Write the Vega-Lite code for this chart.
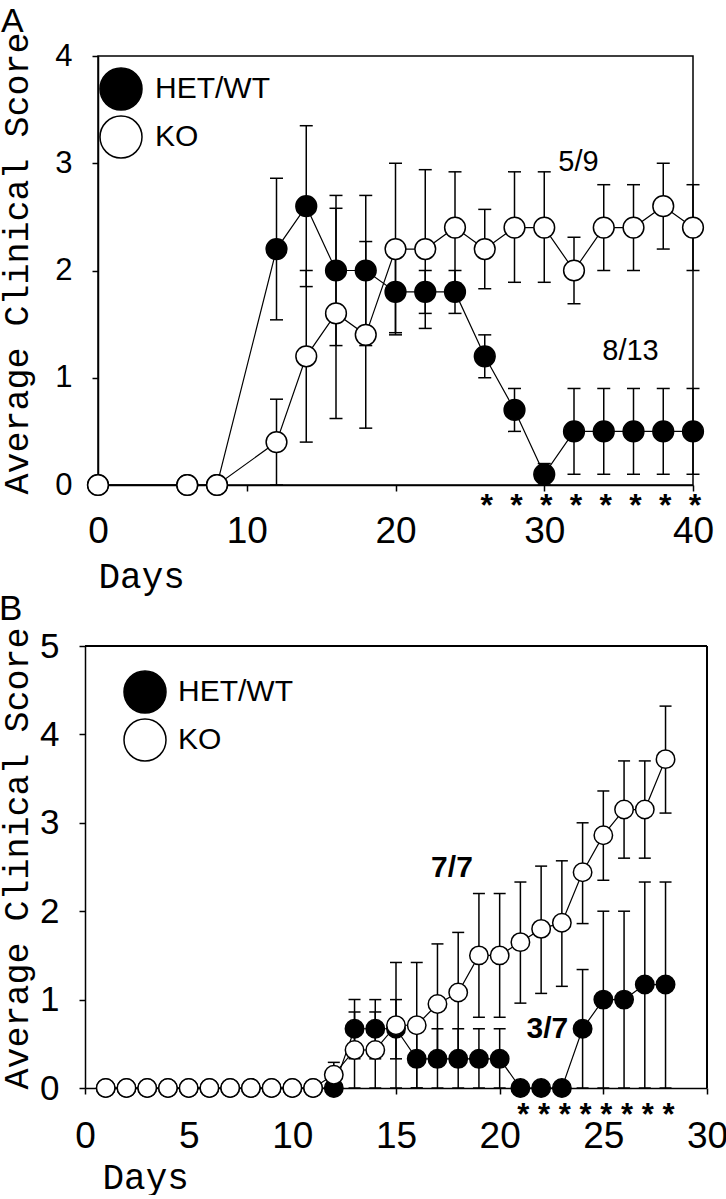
{
  "$schema": "https://vega.github.io/schema/vega-lite/v6.json",
  "background": "white",
  "padding": {"left": -2, "top": 4, "right": 0, "bottom": 0},
  "config": {
    "view": {"stroke": "black", "strokeWidth": 1.5},
    "axis": {"domainColor": "black", "domainWidth": 1.5, "tickColor": "black", "tickWidth": 1.5, "tickSize": 6, "labelColor": "black", "titleColor": "black", "grid": false, "labelFont": "Liberation Sans", "labelFlush": false, "labelOverlap": false, "titleFont": "Courier New, Liberation Mono, monospace", "titleFontWeight": "normal"},
    "legend": {"padding": 0}
  },
  "resolve": {"scale": {"fill": "independent"}, "legend": {"fill": "independent"}},
  "concat": [
    {
      "title": {"text": "A", "anchor": "start", "frame": "bounds", "fontSize": 34, "font": "Liberation Sans", "fontWeight": "normal", "color": "black", "offset": -7, "dx": 2},
      "width": 595,
      "height": 429,
      "data": {"values": [
        {"d": 0, "g": "HET/WT", "v": 0},
        {"d": 6, "g": "HET/WT", "v": 0},
        {"d": 8, "g": "HET/WT", "v": 0},
        {"d": 12, "g": "HET/WT", "v": 2.2, "lo": 1.54, "hi": 2.86},
        {"d": 14, "g": "HET/WT", "v": 2.6, "lo": 1.85, "hi": 3.35},
        {"d": 16, "g": "HET/WT", "v": 2.0, "lo": 1.3, "hi": 2.7},
        {"d": 18, "g": "HET/WT", "v": 2.0, "lo": 1.3, "hi": 2.7},
        {"d": 20, "g": "HET/WT", "v": 1.8, "lo": 1.42, "hi": 2.18},
        {"d": 22, "g": "HET/WT", "v": 1.8, "lo": 1.6, "hi": 2.0},
        {"d": 24, "g": "HET/WT", "v": 1.8, "lo": 1.6, "hi": 2.0},
        {"d": 26, "g": "HET/WT", "v": 1.2, "lo": 1.0, "hi": 1.4},
        {"d": 28, "g": "HET/WT", "v": 0.7, "lo": 0.5, "hi": 0.9},
        {"d": 30, "g": "HET/WT", "v": 0.1, "lo": 0.0, "hi": 0.2},
        {"d": 32, "g": "HET/WT", "v": 0.5, "lo": 0.1, "hi": 0.9},
        {"d": 34, "g": "HET/WT", "v": 0.5, "lo": 0.1, "hi": 0.9},
        {"d": 36, "g": "HET/WT", "v": 0.5, "lo": 0.1, "hi": 0.9},
        {"d": 38, "g": "HET/WT", "v": 0.5, "lo": 0.1, "hi": 0.9},
        {"d": 40, "g": "HET/WT", "v": 0.5, "lo": 0.1, "hi": 0.9},
        {"d": 0, "g": "KO", "v": 0},
        {"d": 6, "g": "KO", "v": 0},
        {"d": 8, "g": "KO", "v": 0},
        {"d": 12, "g": "KO", "v": 0.4, "lo": 0.0, "hi": 0.8},
        {"d": 14, "g": "KO", "v": 1.2, "lo": 0.4, "hi": 2.0},
        {"d": 16, "g": "KO", "v": 1.6, "lo": 0.62, "hi": 2.58},
        {"d": 18, "g": "KO", "v": 1.4, "lo": 0.53, "hi": 2.27},
        {"d": 20, "g": "KO", "v": 2.2, "lo": 1.4, "hi": 3.0},
        {"d": 22, "g": "KO", "v": 2.2, "lo": 1.46, "hi": 2.94},
        {"d": 24, "g": "KO", "v": 2.4, "lo": 1.88, "hi": 2.92},
        {"d": 26, "g": "KO", "v": 2.2, "lo": 1.83, "hi": 2.57},
        {"d": 28, "g": "KO", "v": 2.4, "lo": 1.89, "hi": 2.92},
        {"d": 30, "g": "KO", "v": 2.4, "lo": 1.89, "hi": 2.92},
        {"d": 32, "g": "KO", "v": 2.0, "lo": 1.69, "hi": 2.31},
        {"d": 34, "g": "KO", "v": 2.4, "lo": 2.0, "hi": 2.8},
        {"d": 36, "g": "KO", "v": 2.4, "lo": 2.0, "hi": 2.8},
        {"d": 38, "g": "KO", "v": 2.6, "lo": 2.2, "hi": 3.0},
        {"d": 40, "g": "KO", "v": 2.4, "lo": 2.0, "hi": 2.8}
      ]},
      "encoding": {
        "x": {"field": "d", "type": "quantitative", "scale": {"domain": [0, 40], "nice": false}, "axis": {"values": [0, 10, 20, 30, 40], "labelFontSize": 37, "labelPadding": 22, "title": "Days", "titleFontSize": 36, "titleX": 0, "titleY": 102, "titleAlign": "left", "titleBaseline": "alphabetic"}}
      },
      "layer": [
        {
          "mark": {"type": "rule", "color": "black", "strokeWidth": 1.5},
          "encoding": {
            "y": {"field": "lo", "type": "quantitative", "scale": {"domain": [0, 4], "nice": false}, "axis": {"values": [0, 1, 2, 3, 4], "labelFontSize": 31, "labelPadding": 20, "title": "Average Clinical Score", "titleFontSize": 35, "titleX": -71, "titleY": 207, "titleBaseline": "alphabetic", "titleAlign": "center"}},
            "y2": {"field": "hi"}
          }
        },
        {
          "mark": {"type": "tick", "orient": "horizontal", "size": 13, "thickness": 1.5, "color": "black", "opacity": 1},
          "encoding": {"y": {"field": "lo", "type": "quantitative", "axis": {"values": [0, 1, 2, 3, 4], "labelFontSize": 31, "labelPadding": 20, "title": "Average Clinical Score", "titleFontSize": 35, "titleX": -71, "titleY": 207, "titleBaseline": "alphabetic", "titleAlign": "center"}}}
        },
        {
          "mark": {"type": "tick", "orient": "horizontal", "size": 13, "thickness": 1.5, "color": "black", "opacity": 1},
          "encoding": {"y": {"field": "hi", "type": "quantitative", "axis": {"values": [0, 1, 2, 3, 4], "labelFontSize": 31, "labelPadding": 20, "title": "Average Clinical Score", "titleFontSize": 35, "titleX": -71, "titleY": 207, "titleBaseline": "alphabetic", "titleAlign": "center"}}}
        },
        {
          "mark": {"type": "line", "color": "black", "strokeWidth": 1.2},
          "encoding": {"y": {"field": "v", "type": "quantitative", "axis": {"values": [0, 1, 2, 3, 4], "labelFontSize": 31, "labelPadding": 20, "title": "Average Clinical Score", "titleFontSize": 35, "titleX": -71, "titleY": 207, "titleBaseline": "alphabetic", "titleAlign": "center"}}, "detail": {"field": "g", "type": "nominal"}}
        },
        {
          "mark": {"type": "point", "shape": "circle", "filled": true, "stroke": "black", "strokeWidth": 1.5, "size": 430, "opacity": 1},
          "encoding": {
            "y": {"field": "v", "type": "quantitative", "axis": {"values": [0, 1, 2, 3, 4], "labelFontSize": 31, "labelPadding": 20, "title": "Average Clinical Score", "titleFontSize": 35, "titleX": -71, "titleY": 207, "titleBaseline": "alphabetic", "titleAlign": "center"}},
            "fill": {"field": "g", "type": "nominal", "scale": {"domain": ["HET/WT", "KO"], "range": ["black", "white"]}, "legend": {"orient": "none", "legendX": 1, "legendY": 11, "title": null, "symbolType": "circle", "symbolSize": 1764, "symbolStrokeColor": "black", "symbolStrokeWidth": 1.5, "symbolOpacity": 1, "labelFont": "Liberation Sans", "labelFontSize": 30, "labelColor": "black", "labelOffset": 12, "rowPadding": 0, "padding": 0}}
          }
        },
        {
          "data": {"values": [{"d": 32.3, "v": 3.01, "t": "5/9"}, {"d": 35.8, "v": 1.25, "t": "8/13"}]},
          "mark": {"type": "text", "font": "Liberation Sans", "fontSize": 29, "color": "black", "baseline": "middle", "align": "center"},
          "encoding": {"y": {"field": "v", "type": "quantitative", "axis": {"values": [0, 1, 2, 3, 4], "labelFontSize": 31, "labelPadding": 20, "title": "Average Clinical Score", "titleFontSize": 35, "titleX": -71, "titleY": 207, "titleBaseline": "alphabetic", "titleAlign": "center"}}, "text": {"field": "t"}}
        },
        {
          "data": {"values": [{"d": 26, "v": 0}, {"d": 28, "v": 0}, {"d": 30, "v": 0}, {"d": 32, "v": 0}, {"d": 34, "v": 0}, {"d": 36, "v": 0}, {"d": 38, "v": 0}, {"d": 40, "v": 0}]},
          "mark": {"type": "text", "text": "*", "font": "Liberation Sans", "fontSize": 32, "fontWeight": "bold", "color": "black", "baseline": "alphabetic", "align": "center", "dy": 31, "dx": 2},
          "encoding": {"y": {"field": "v", "type": "quantitative", "axis": {"values": [0, 1, 2, 3, 4], "labelFontSize": 31, "labelPadding": 20, "title": "Average Clinical Score", "titleFontSize": 35, "titleX": -71, "titleY": 207, "titleBaseline": "alphabetic", "titleAlign": "center"}}}
        }
      ]
    },
    {
      "title": {"text": "B", "anchor": "start", "frame": "bounds", "fontSize": 35, "font": "Liberation Sans", "fontWeight": "normal", "color": "black", "offset": 0, "dx": 0},
      "width": 609,
      "height": 442,
      "view": {"stroke": null},
      "data": {"values": [
        {"d": 1, "g": "HET/WT", "v": 0},
        {"d": 2, "g": "HET/WT", "v": 0},
        {"d": 3, "g": "HET/WT", "v": 0},
        {"d": 4, "g": "HET/WT", "v": 0},
        {"d": 5, "g": "HET/WT", "v": 0},
        {"d": 6, "g": "HET/WT", "v": 0},
        {"d": 7, "g": "HET/WT", "v": 0},
        {"d": 8, "g": "HET/WT", "v": 0},
        {"d": 9, "g": "HET/WT", "v": 0},
        {"d": 10, "g": "HET/WT", "v": 0},
        {"d": 11, "g": "HET/WT", "v": 0},
        {"d": 12, "g": "HET/WT", "v": 0},
        {"d": 13, "g": "HET/WT", "v": 0.67, "lo": 0.33, "hi": 1.0},
        {"d": 14, "g": "HET/WT", "v": 0.67, "lo": 0.33, "hi": 1.0},
        {"d": 15, "g": "HET/WT", "v": 0.67, "lo": 0.33, "hi": 1.0},
        {"d": 16, "g": "HET/WT", "v": 0.33, "lo": 0.0, "hi": 0.67},
        {"d": 17, "g": "HET/WT", "v": 0.33, "lo": 0.0, "hi": 0.67},
        {"d": 18, "g": "HET/WT", "v": 0.33, "lo": 0.0, "hi": 0.67},
        {"d": 19, "g": "HET/WT", "v": 0.33, "lo": 0.0, "hi": 0.67},
        {"d": 20, "g": "HET/WT", "v": 0.33, "lo": 0.0, "hi": 0.67},
        {"d": 21, "g": "HET/WT", "v": 0},
        {"d": 22, "g": "HET/WT", "v": 0},
        {"d": 23, "g": "HET/WT", "v": 0},
        {"d": 24, "g": "HET/WT", "v": 0.67, "lo": 0.0, "hi": 1.34},
        {"d": 25, "g": "HET/WT", "v": 1.0, "lo": 0.0, "hi": 2.0},
        {"d": 26, "g": "HET/WT", "v": 1.0, "lo": 0.0, "hi": 2.0},
        {"d": 27, "g": "HET/WT", "v": 1.17, "lo": 0.0, "hi": 2.33},
        {"d": 28, "g": "HET/WT", "v": 1.17, "lo": 0.0, "hi": 2.33},
        {"d": 1, "g": "KO", "v": 0},
        {"d": 2, "g": "KO", "v": 0},
        {"d": 3, "g": "KO", "v": 0},
        {"d": 4, "g": "KO", "v": 0},
        {"d": 5, "g": "KO", "v": 0},
        {"d": 6, "g": "KO", "v": 0},
        {"d": 7, "g": "KO", "v": 0},
        {"d": 8, "g": "KO", "v": 0},
        {"d": 9, "g": "KO", "v": 0},
        {"d": 10, "g": "KO", "v": 0},
        {"d": 11, "g": "KO", "v": 0},
        {"d": 12, "g": "KO", "v": 0.15, "lo": 0.0, "hi": 0.29},
        {"d": 13, "g": "KO", "v": 0.43, "lo": 0.0, "hi": 0.86},
        {"d": 14, "g": "KO", "v": 0.43, "lo": 0.0, "hi": 0.86},
        {"d": 15, "g": "KO", "v": 0.71, "lo": 0.0, "hi": 1.42},
        {"d": 16, "g": "KO", "v": 0.71, "lo": 0.0, "hi": 1.42},
        {"d": 17, "g": "KO", "v": 0.95, "lo": 0.27, "hi": 1.63},
        {"d": 18, "g": "KO", "v": 1.08, "lo": 0.4, "hi": 1.76},
        {"d": 19, "g": "KO", "v": 1.5, "lo": 0.8, "hi": 2.2},
        {"d": 20, "g": "KO", "v": 1.5, "lo": 0.8, "hi": 2.2},
        {"d": 21, "g": "KO", "v": 1.65, "lo": 0.96, "hi": 2.33},
        {"d": 22, "g": "KO", "v": 1.8, "lo": 1.07, "hi": 2.51},
        {"d": 23, "g": "KO", "v": 1.87, "lo": 1.15, "hi": 2.57},
        {"d": 24, "g": "KO", "v": 2.44, "lo": 1.86, "hi": 3.0},
        {"d": 25, "g": "KO", "v": 2.86, "lo": 2.35, "hi": 3.36},
        {"d": 26, "g": "KO", "v": 3.15, "lo": 2.6, "hi": 3.7},
        {"d": 27, "g": "KO", "v": 3.15, "lo": 2.6, "hi": 3.7},
        {"d": 28, "g": "KO", "v": 3.72, "lo": 3.11, "hi": 4.32}
      ]},
      "encoding": {
        "x": {"field": "d", "type": "quantitative", "scale": {"domain": [0, 30], "nice": false, "range": [-13, 609]}, "axis": {"values": [0, 5, 10, 15, 20, 25, 30], "labelFontSize": 37, "labelPadding": 24, "title": "Days", "titleFontSize": 36, "titleX": 4, "titleY": 100, "titleAlign": "left", "titleBaseline": "alphabetic"}}
      },
      "layer": [
        {
          "mark": {"type": "rule", "color": "black", "strokeWidth": 1.5},
          "encoding": {
            "y": {"field": "lo", "type": "quantitative", "scale": {"domain": [0, 5], "nice": false}, "axis": {"values": [0, 1, 2, 3, 4, 5], "labelFontSize": 35, "labelPadding": 20, "offset": 13, "title": "Average Clinical Score", "titleFontSize": 35, "titleX": -58, "titleY": 212, "titleBaseline": "alphabetic", "titleAlign": "center"}},
            "y2": {"field": "hi"}
          }
        },
        {
          "mark": {"type": "rule", "color": "black", "strokeWidth": 1.5},
          "encoding": {
            "x": {"datum": 0, "type": "quantitative", "axis": {"values": [0, 5, 10, 15, 20, 25, 30], "labelFontSize": 37, "labelPadding": 24, "title": "Days", "titleFontSize": 36, "titleX": 4, "titleY": 100, "titleAlign": "left", "titleBaseline": "alphabetic"}},
            "x2": {"datum": 30},
            "y": {"datum": 5, "type": "quantitative", "axis": {"values": [0, 1, 2, 3, 4, 5], "labelFontSize": 35, "labelPadding": 20, "offset": 13, "title": "Average Clinical Score", "titleFontSize": 35, "titleX": -58, "titleY": 212, "titleBaseline": "alphabetic", "titleAlign": "center"}}
          }
        },
        {
          "mark": {"type": "rule", "color": "black", "strokeWidth": 1.5},
          "encoding": {
            "x": {"datum": 30, "type": "quantitative", "axis": {"values": [0, 5, 10, 15, 20, 25, 30], "labelFontSize": 37, "labelPadding": 24, "title": "Days", "titleFontSize": 36, "titleX": 4, "titleY": 100, "titleAlign": "left", "titleBaseline": "alphabetic"}},
            "y": {"datum": 0, "type": "quantitative", "axis": {"values": [0, 1, 2, 3, 4, 5], "labelFontSize": 35, "labelPadding": 20, "offset": 13, "title": "Average Clinical Score", "titleFontSize": 35, "titleX": -58, "titleY": 212, "titleBaseline": "alphabetic", "titleAlign": "center"}},
            "y2": {"datum": 5}
          }
        },
        {
          "mark": {"type": "tick", "orient": "horizontal", "size": 12, "thickness": 1.5, "color": "black", "opacity": 1},
          "encoding": {"y": {"field": "lo", "type": "quantitative", "axis": {"values": [0, 1, 2, 3, 4, 5], "labelFontSize": 35, "labelPadding": 20, "offset": 13, "title": "Average Clinical Score", "titleFontSize": 35, "titleX": -58, "titleY": 212, "titleBaseline": "alphabetic", "titleAlign": "center"}}}
        },
        {
          "mark": {"type": "tick", "orient": "horizontal", "size": 12, "thickness": 1.5, "color": "black", "opacity": 1},
          "encoding": {"y": {"field": "hi", "type": "quantitative", "axis": {"values": [0, 1, 2, 3, 4, 5], "labelFontSize": 35, "labelPadding": 20, "offset": 13, "title": "Average Clinical Score", "titleFontSize": 35, "titleX": -58, "titleY": 212, "titleBaseline": "alphabetic", "titleAlign": "center"}}}
        },
        {
          "mark": {"type": "line", "color": "black", "strokeWidth": 1.2},
          "encoding": {"y": {"field": "v", "type": "quantitative", "axis": {"values": [0, 1, 2, 3, 4, 5], "labelFontSize": 35, "labelPadding": 20, "offset": 13, "title": "Average Clinical Score", "titleFontSize": 35, "titleX": -58, "titleY": 212, "titleBaseline": "alphabetic", "titleAlign": "center"}}, "detail": {"field": "g", "type": "nominal"}}
        },
        {
          "mark": {"type": "point", "shape": "circle", "filled": true, "stroke": "black", "strokeWidth": 1.5, "size": 340, "opacity": 1},
          "encoding": {
            "y": {"field": "v", "type": "quantitative", "axis": {"values": [0, 1, 2, 3, 4, 5], "labelFontSize": 35, "labelPadding": 20, "offset": 13, "title": "Average Clinical Score", "titleFontSize": 35, "titleX": -58, "titleY": 212, "titleBaseline": "alphabetic", "titleAlign": "center"}},
            "fill": {"field": "g", "type": "nominal", "scale": {"domain": ["HET/WT", "KO"], "range": ["black", "white"]}, "legend": {"orient": "none", "legendX": 25, "legendY": 24, "title": null, "symbolType": "circle", "symbolSize": 1764, "symbolStrokeColor": "black", "symbolStrokeWidth": 1.5, "symbolOpacity": 1, "labelFont": "Liberation Sans", "labelFontSize": 30, "labelColor": "black", "labelOffset": 11, "rowPadding": 0, "padding": 0}}
          }
        },
        {
          "data": {"values": [{"d": 17.7, "v": 2.49, "t": "7/7"}, {"d": 22.3, "v": 0.67, "t": "3/7"}]},
          "mark": {"type": "text", "font": "Liberation Sans", "fontSize": 30, "fontWeight": "bold", "color": "black", "baseline": "middle", "align": "center"},
          "encoding": {"y": {"field": "v", "type": "quantitative", "axis": {"values": [0, 1, 2, 3, 4, 5], "labelFontSize": 35, "labelPadding": 20, "offset": 13, "title": "Average Clinical Score", "titleFontSize": 35, "titleX": -58, "titleY": 212, "titleBaseline": "alphabetic", "titleAlign": "center"}}, "text": {"field": "t"}}
        },
        {
          "data": {"values": [{"d": 21, "v": 0}, {"d": 22, "v": 0}, {"d": 23, "v": 0}, {"d": 24, "v": 0}, {"d": 25, "v": 0}, {"d": 26, "v": 0}, {"d": 27, "v": 0}, {"d": 28, "v": 0}]},
          "mark": {"type": "text", "text": "*", "font": "Liberation Sans", "fontSize": 31, "fontWeight": "bold", "color": "black", "baseline": "alphabetic", "align": "center", "dy": 37, "dx": 3},
          "encoding": {"y": {"field": "v", "type": "quantitative", "axis": {"values": [0, 1, 2, 3, 4, 5], "labelFontSize": 35, "labelPadding": 20, "offset": 13, "title": "Average Clinical Score", "titleFontSize": 35, "titleX": -58, "titleY": 212, "titleBaseline": "alphabetic", "titleAlign": "center"}}}
        }
      ]
    }
  ],
  "columns": 1,
  "spacing": -4
}
